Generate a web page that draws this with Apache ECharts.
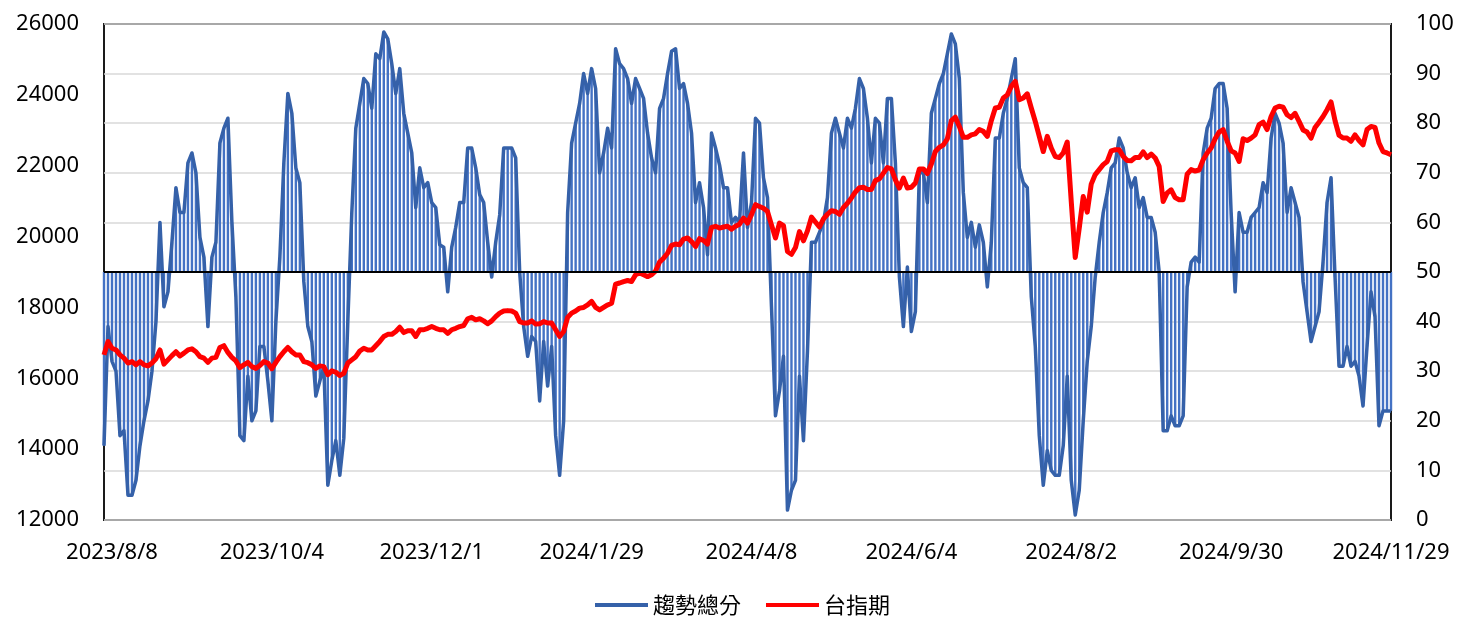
<!DOCTYPE html>
<html>
<head>
<meta charset="utf-8">
<script src="https://cdn.jsdelivr.net/npm/echarts@6/dist/echarts.min.js"></script>
<style>
html,body{margin:0;padding:0;background:#fff;}
#chart{width:1458px;height:617px;}
</style>
</head>
<body>
<div id="chart"></div>
<script>
// Tick labels shown on the category axis (every 40th trading day, starting at index 2)
const tickLabels = ['2023/8/8','2023/10/4','2023/12/1','2024/1/29','2024/4/8','2024/6/4','2024/8/2','2024/9/30','2024/11/29'];

// 趨勢總分 (right axis, 0-100, baseline 50)
const trendScore = [
15,39,32,30,17,18,5,5,8,15,
20,24,30,40,60,43,46,56,67,62,
62,72,74,70,57,53,39,53,56,76,
79,81,60,45,17,16,29,20,22,35,
35,28,20,40,53,72,86,82,71,68,
48,39,36,25,28,31,7,12,16,9,
16.5,40,62,79,84,89,88,83,94,93,
98.4,97,92,86,91,82,78,74,63,71,
67,68,64,63,55.5,55,46,55,59,64,
64,75,75,71,65.6,64,56,49,56,61.5,
75,75,75,73,50,39,33,37,36,24,
36,27,35,17,9,20,62,76,80,84,
90,86,91,87,70,74,79,75,95,92,
91,89,84,89,87,85,78,73,70,83,
85,90,94.5,95,87,88,84,78,64,68,
63,53.5,78,75,71.6,67,67,60,61,60,
74,59,64,81,80,69,65,43,21,26,
33,2,6,8,29,16,34,56,56,58,
60,65,78,81,78,75,81,79,83,89,
87,81,72,81,80,72,85,85,72,49,
39,51,38,42,70,70,64,82,85,88,
90,94,98,96,89,66,57,60,55,59.5,
56,47,56,77,77,82,85,89,93,71,
68,67,45,35,17,7,14,10,9,9,
15,29,8,1,6,20,32,39,49,56,
62,66,71,72,77,75,70,67,69,63,
65,61,61,58,50,18,18,21,19,19,
21,47,52,53,52,74,79,81,87,88,
88,83,62,46,62,58,58,61,62,63,
68,66,77,82,80,76,62,67,64,61,
48,42,36,39,42,52,64,69,49,31,
31,35,31,32,29,23,35,46,41,19,
22,22,22
];

// 台指期 (left axis)
const taiexFutures = [
16660,17040,16850,16800,16660,16570,16430,16470,16380,16470,
16380,16350,16430,16550,16800,16400,16520,16640,16750,16630,
16710,16800,16830,16750,16610,16570,16450,16570,16590,16870,
16920,16730,16590,16490,16300,16380,16450,16330,16280,16360,
16470,16430,16270,16450,16610,16750,16870,16750,16660,16660,
16470,16440,16380,16280,16350,16330,16100,16210,16170,16080,
16140,16430,16520,16610,16770,16850,16800,16800,16920,17040,
17180,17240,17240,17320,17440,17290,17340,17340,17180,17370,
17370,17410,17460,17410,17370,17370,17270,17370,17410,17460,
17490,17680,17720,17650,17680,17620,17540,17620,17740,17840,
17900,17910,17900,17840,17600,17560,17560,17620,17530,17540,
17600,17560,17560,17370,17180,17320,17720,17840,17900,17980,
18000,18070,18170,18000,17930,18000,18070,18120,18660,18690,
18730,18760,18730,18920,18970,18920,18870,18920,19030,19280,
19390,19530,19750,19790,19770,19930,19960,19860,19720,19940,
19890,19790,20260,20290,20240,20270,20290,20210,20290,20350,
20520,20380,20620,20900,20850,20800,20710,20330,19960,20380,
20310,19580,19500,19690,20140,19880,20160,20550,20410,20270,
20500,20630,20730,20710,20630,20820,20940,21090,21260,21380,
21390,21330,21330,21580,21630,21790,21950,21910,21600,21370,
21650,21370,21390,21510,21910,21910,21780,22050,22400,22520,
22590,22760,23270,23370,23110,22800,22800,22870,22900,23020,
22970,22830,23270,23630,23650,23910,24000,24240,24380,23860,
23910,24030,23630,23250,22830,22400,22830,22500,22260,22230,
22360,22670,20990,19410,20240,21130,20690,21480,21750,21890,
22030,22120,22420,22450,22450,22260,22150,22140,22230,22230,
22390,22230,22330,22220,21980,20990,21230,21320,21100,21040,
21040,21760,21890,21850,21880,22170,22360,22500,22760,22950,
23020,22690,22420,22360,22120,22760,22710,22780,22870,23160,
23230,23020,23390,23630,23680,23650,23440,23360,23480,23250,
23010,22950,22780,23080,23230,23390,23580,23800,23270,22860,
22780,22780,22690,22870,22710,22590,23020,23110,23080,22640,
22400,22360,22310
];

const baseline = 50;
const categories = trendScore.map((_, i) => String(i));
const barBase = trendScore.map(v => Math.min(v, baseline));
const barSpan = trendScore.map(v => Math.abs(v - baseline));

const FONT = "'Noto Sans', 'Noto Sans CJK TC', sans-serif";
const chart = echarts.init(document.getElementById('chart'), null, {renderer: 'canvas'});
chart.setOption({
  animation: false,
  backgroundColor: '#ffffff',
  textStyle: {fontFamily: FONT},
  grid: {left: 104, right: 67, top: 24, bottom: 97, show: true, borderColor: '#1a1a1a', borderWidth: 2, backgroundColor: 'transparent'},
  legend: {
    data: ['趨勢總分', '台指期'],
    left: 590, top: 589,
    icon: 'rect', itemWidth: 53, itemHeight: 4, itemGap: 25,
    textStyle: {fontSize: 22, color: '#000', fontFamily: "'Noto Sans CJK TC', sans-serif"}
  },
  xAxis: {
    type: 'category', data: categories, boundaryGap: false,
    axisLine: {show: false}, axisTick: {show: false}, splitLine: {show: false},
    axisLabel: {
      interval: (idx) => idx >= 2 && (idx - 2) % 40 === 0,
      formatter: (v, idx) => tickLabels[Math.round((idx - 2) / 40)] || '',
      margin: 22, fontSize: 22, color: '#000', fontFamily: FONT
    }
  },
  yAxis: [
    {type: 'value', min: 12000, max: 26000, interval: 2000, position: 'left',
     axisLine: {show: false}, axisTick: {show: false}, splitLine: {show: false},
     axisLabel: {margin: 25, fontSize: 22, color: '#000', fontFamily: FONT, formatter: v => String(v)}},
    {type: 'value', min: 0, max: 100, interval: 10, position: 'right',
     axisLine: {show: false}, axisTick: {show: false},
     splitLine: {show: true, lineStyle: {color: '#d9d9d9', width: 1.5}},
     axisLabel: {margin: 25, fontSize: 22, color: '#000', fontFamily: FONT, formatter: v => String(v)}}
  ],
  series: [
    {type: 'bar', name: 'base', yAxisIndex: 1, stack: 'trend', data: barBase, barWidth: 2.4,
     itemStyle: {color: 'rgba(0,0,0,0)'}, silent: true},
    {type: 'bar', name: 'span', yAxisIndex: 1, stack: 'trend', data: barSpan, barWidth: 2.4,
     itemStyle: {color: '#4472C4'}, silent: true},
    {type: 'line', name: '趨勢總分', yAxisIndex: 1, data: trendScore, symbol: 'none',
     lineStyle: {color: '#3561A9', width: 3.5, join: 'round'}, itemStyle: {color: '#3561A9'}, z: 3,
     markLine: {silent: true, symbol: ['none', 'none'], label: {show: false},
       lineStyle: {color: '#000', width: 2, type: 'solid'}, data: [{yAxis: baseline}]}},
    {type: 'line', name: '台指期', yAxisIndex: 0, data: taiexFutures, symbol: 'none',
     lineStyle: {color: '#FF0000', width: 5, join: 'round'}, itemStyle: {color: '#FF0000'}, z: 4}
  ]
});
</script>
</body>
</html>
